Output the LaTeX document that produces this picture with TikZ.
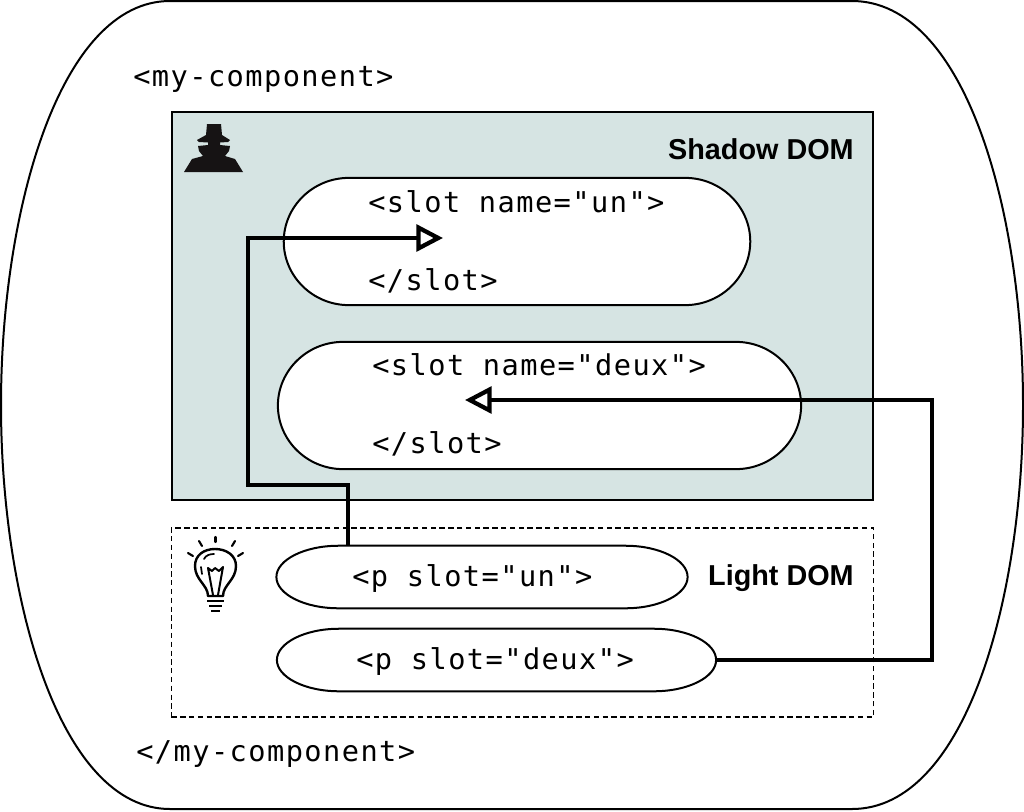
\documentclass[tikz,border=0pt]{standalone}
\usepackage{fontspec}
\setmainfont{Liberation Sans}
\newfontfamily\codefont[LetterSpace=5]{DejaVu Sans Mono}
\usepackage{tikz}
\usetikzlibrary{positioning,arrows.meta,calc}
\definecolor{shadowbg}{HTML}{D6E4E3}
\definecolor{ink}{HTML}{161314}
\tikzset{
  pill/.style={inner sep=0pt},
  pillline/.style={draw=black, line width=1.5pt, fill=white},
  code/.style={font=\codefont\fontsize{21.5}{26}\selectfont, inner sep=0pt, anchor=base west},
  title/.style={font=\bfseries\fontsize{21.6}{26}\selectfont, inner sep=0pt, anchor=base east},
  link/.style={draw=black, line width=3.4pt, miter limit=10},
  linktip/.style={-{Triangle[open,length=20pt,width=20pt,line width=3.2pt]}},
  ray/.style={line width=1.6pt, line cap=round}
}
% outline round a named node: name, end length, half height
\newcommand{\pillshape}[3]{
  \draw[pillline] ($(#1.north west)+(#2,0)$) -- ($(#1.north east)+(-#2,0)$)
    .. controls +(0.55*#2,0) and ($(#1.east)+(0,-0.55*#3)$) .. (#1.east)
    .. controls ($(#1.east)+(0,0.55*#3)$) and ($(#1.south east)+(-0.45*#2,0)$) .. ($(#1.south east)+(-#2,0)$)
    -- ($(#1.south west)+(#2,0)$)
    .. controls ($(#1.south west)+(0.45*#2,0)$) and ($(#1.west)+(0,0.55*#3)$) .. (#1.west)
    .. controls ($(#1.west)+(0,-0.55*#3)$) and ($(#1.north west)+(0.45*#2,0)$) .. ($(#1.north west)+(#2,0)$) -- cycle;
}
\begin{document}
\begin{tikzpicture}[x=0.75pt,y=-0.75pt]
  \useasboundingbox (0,0) rectangle (1024,811);
  % outer component
  \draw[line width=1.5pt, fill=white] (170,1) -- (852,1)
    .. controls (965,1) and (1023,210) .. (1023,405)
    .. controls (1023,600) and (965,809) .. (852,809)
    -- (170,809)
    .. controls (60,809) and (1,600) .. (1,405)
    .. controls (1,210) and (60,1) .. (170,1) -- cycle;
  \node[code] (open) at (133,86) {<my-component>};
  \node[code] (close) at (136,761) {</my-component>};

  % shadow dom
  \node[draw=black, line width=1.5pt, fill=shadowbg, minimum width=526pt, minimum height=291pt, inner sep=0pt, anchor=north west] (shadow) at (170.5,111) {};
  \node[title] (shadowtitle) at (854,159) {Shadow DOM};
  \node[pill, minimum width=349.5pt, minimum height=95pt] (slotun) at (517,241.5) {};
  \node[pill, minimum width=392pt, minimum height=95pt] (slotdeux) at (539.5,405.5) {};
  \pillshape{slotun}{65}{63.5}
  \pillshape{slotdeux}{65}{63.5}
  \node[code] (unopen) at (368,212) {<slot name="un">};
  \node[code] (unclose) at (368,290) {</slot>};
  \node[code] (deuxopen) at (372,375) {<slot name="deux">};
  \node[code] (deuxclose) at (372,453) {</slot>};

  % light dom
  \node[draw=black, line width=1.3pt, dash pattern=on 4pt off 2.6pt, minimum width=526.5pt, minimum height=142pt, inner sep=0pt, anchor=north west] (light) at (170.5,527) {};
  \node[title] (lighttitle) at (854,585) {Light DOM};
  \node[pill, minimum width=308pt, minimum height=46.5pt] (pun) at (482,577) {};
  \node[pill, minimum width=329pt, minimum height=46.5pt] (pdeux) at (496.5,660) {};
  \pillshape{pun}{62}{31}
  \pillshape{pdeux}{62}{31}
  \node[code] (puntext) at (352,586) {<p slot="un">};
  \node[code] (pdeuxtext) at (356,669) {<p slot="deux">};

  % hat man
  \fill[ink] (207,124) -- (221,124) -- (222,135) -- (230,140) -- (228,142) -- (220,142.5)
    -- (220,145) -- (230,146) -- (229,151) -- (225,156) -- (235,159)
    -- (243,172) -- (184,172) -- (192,159) -- (203,156) -- (199,151) -- (198,146)
    -- (208,145) -- (208,142.5) -- (199,142) -- (197,140) -- (206,135) -- cycle;

  % bulb
  \draw[line width=1.8pt, line join=round] (208,596)
    .. controls (208,585) and (195,580) .. (195,566)
    .. controls (195,555) and (204,549) .. (215,549)
    .. controls (226,549) and (236,555) .. (236,566)
    .. controls (236,580) and (223,585) .. (223,596) -- cycle;
  \draw[line width=1.5pt, line join=round] (213,595) -- (208,568) -- (212,571) -- (215,568) -- (219,571) -- (223,567) -- (218,595);
  \draw[line width=1.3pt, line cap=round] (201,567) -- (202,574);
  \draw[line width=1.3pt, line cap=round] (204,559) .. controls (206,555) and (210,554) .. (214,554);
  \draw[line width=1.6pt] (207,601) -- (224,601) (209,606) -- (222,606) (211,611) -- (220,611);
  \draw[ray] (215.5,537) -- (215.5,542);
  \draw[ray] (199,541) -- (202,546);
  \draw[ray] (232,546) -- (235,541);
  \draw[ray] (188,553) -- (193,556);
  \draw[ray] (238,556) -- (243,553);

  % connectors
  \coordinate (untip) at (443,238);
  \coordinate (deuxtip) at (465,400);
  \draw[link, linktip] (pun.north -| 348,0) -- (348,485) -- (248,485) -- (248,238) -- (untip);
  \draw[link, linktip] (pdeux.east) -- (932,660) -- (932,400) -- (deuxtip);
\end{tikzpicture}
\end{document}
